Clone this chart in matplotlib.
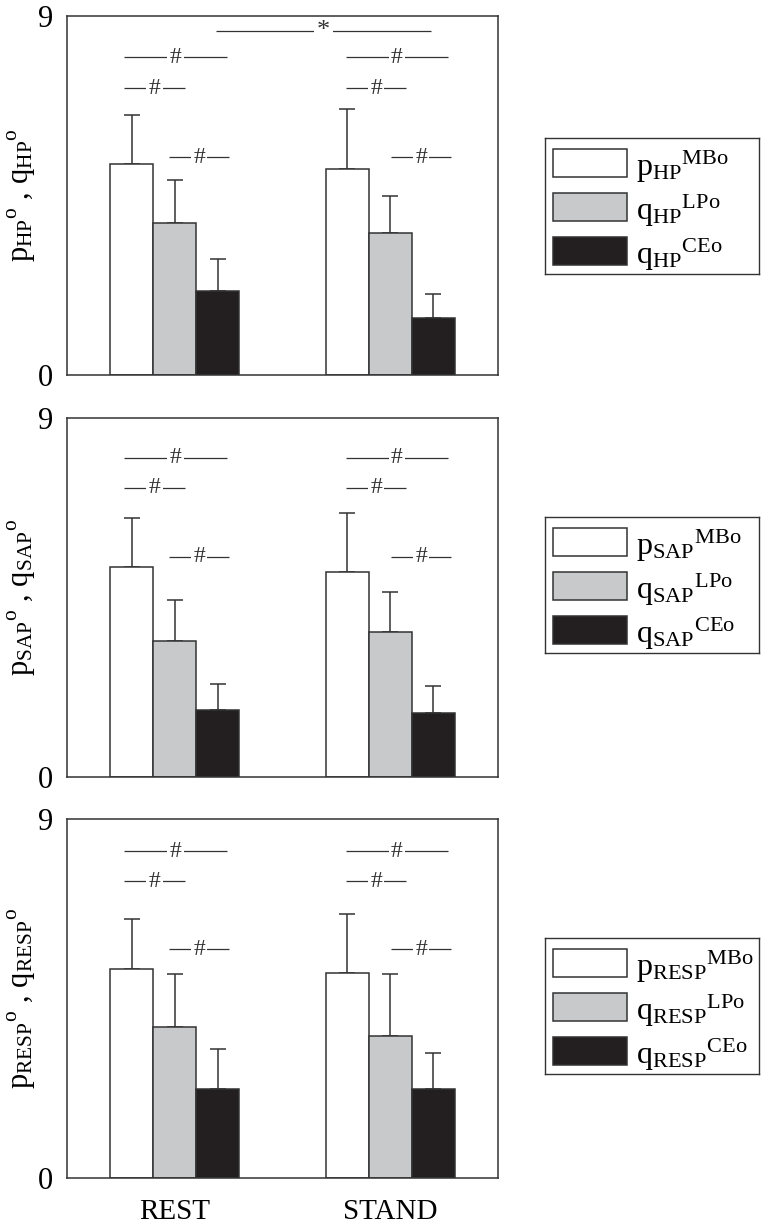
import matplotlib
matplotlib.use("Agg")
import matplotlib.pyplot as plt
from matplotlib.patches import Rectangle

plt.rcParams['font.family'] = ['Liberation Serif', 'DejaVu Serif']
plt.rcParams['mathtext.fontset'] = 'custom'
plt.rcParams['mathtext.rm'] = 'Liberation Serif'
plt.rcParams['mathtext.it'] = 'Liberation Serif:italic'
plt.rcParams['mathtext.bf'] = 'Liberation Serif:bold'

# ---------------- data ----------------
categories = ['REST', 'STAND']
signals = ['HP', 'SAP', 'RESP']

mbo_means = {'HP': [5.28, 5.16], 'SAP': [5.27, 5.15], 'RESP': [5.25, 5.15]}
mbo_errs = {'HP': [1.24, 1.51], 'SAP': [1.23, 1.48], 'RESP': [1.24, 1.47]}
lpo_means = {'HP': [3.82, 3.56], 'SAP': [3.40, 3.63], 'RESP': [3.79, 3.57]}
lpo_errs = {'HP': [1.07, 0.93], 'SAP': [1.04, 1.01], 'RESP': [1.33, 1.55]}
ceo_means = {'HP': [2.11, 1.43], 'SAP': [1.68, 1.60], 'RESP': [2.24, 2.24]}
ceo_errs = {'HP': [0.80, 0.60], 'SAP': [0.65, 0.68], 'RESP': [1.00, 0.90]}

# significance bracket heights (data units) per panel: top, middle, low
sig_levels = {'HP': [7.97, 7.19, 5.46], 'SAP': [8.00, 7.25, 5.52], 'RESP': [8.19, 7.44, 5.73]}
star_level_hp = 8.62

ymax = 9
yticks = [0, 9]

# ---------------- style ----------------
group_centers = [0.25, 0.75]
bar_w = 0.1
edge = '#333333'
fill_colors = ['white', '#c8c9cb', '#231f20']

fig = plt.figure(figsize=(7.69, 12.25), dpi=100)

ax_left = 67 / 769
ax_w = 431 / 769
ax_h = 359 / 1225
bottoms = [1 - 375 / 1225, 1 - 777 / 1225, 1 - 1178 / 1225]
leg_bottoms = [1 - 274 / 1225, 1 - 653 / 1225, 1 - 1074 / 1225]

# bracket x extents (axis fraction) for REST, STAND
br_x = {
    0: [(0.132, 0.371), (0.132, 0.274), (0.237, 0.376)],
    1: [(0.647, 0.884), (0.647, 0.787), (0.752, 0.891)],
}


def bracket(ax, x0, x1, y, sym, fs=17):
    ax.plot([x0, x1], [y, y], color=edge, lw=0.9, solid_capstyle='butt', zorder=3)
    ax.text((x0 + x1) / 2, y, sym, ha='center', va='center', fontsize=fs,
            color=edge, zorder=4,
            bbox=dict(boxstyle='square,pad=0.1', fc='white', ec='none'))


for i, sig in enumerate(signals):
    ax = fig.add_axes([ax_left, bottoms[i], ax_w, ax_h])
    series = [(mbo_means[sig], mbo_errs[sig]),
              (lpo_means[sig], lpo_errs[sig]),
              (ceo_means[sig], ceo_errs[sig])]
    for k, (m, e) in enumerate(series):
        xs = [c + (k - 1) * bar_w for c in group_centers]
        ax.bar(xs, m, width=bar_w, color=fill_colors[k], edgecolor=edge,
               linewidth=1.1, zorder=2)
        ax.errorbar(xs, m, yerr=[[0, 0], e], fmt='none', ecolor=edge,
                    elinewidth=1.1, capsize=5.5, capthick=1.1, zorder=1)
    for g in range(2):
        for (x0, x1), y in zip(br_x[g], sig_levels[sig]):
            bracket(ax, x0, x1, y, '#')
    if sig == 'HP':
        bracket(ax, 0.346, 0.845, star_level_hp, '*', fs=19)

    ax.set_xlim(0, 1)
    ax.set_ylim(0, ymax)
    ax.set_yticks(yticks)
    ax.set_yticklabels([str(t) for t in yticks], fontsize=22)
    ax.tick_params(axis='both', length=0, pad=10)
    if i == 2:
        ax.set_xticks(group_centers)
        ax.set_xticklabels(categories, fontsize=21)
        ax.tick_params(axis='x', pad=15)
    else:
        ax.set_xticks([])
    for sp in ax.spines.values():
        sp.set_color(edge)
        sp.set_linewidth(1.1)
    fig.text(21 / 769, bottoms[i] + ax_h / 2,
             r'$\mathrm{p_{%s}}^{\mathrm{o}}$ , $\mathrm{q_{%s}}^{\mathrm{o}}$' % (sig, sig),
             fontsize=22, rotation=90, ha='center', va='center')

    # legend box
    lax = fig.add_axes([545 / 769, leg_bottoms[i], 214 / 769, 136 / 1225])
    lax.set_xlim(0, 214)
    lax.set_ylim(136, 0)
    lax.set_xticks([])
    lax.set_yticks([])
    for sp in lax.spines.values():
        sp.set_color(edge)
        sp.set_linewidth(1.0)
    labels = [r'$\mathrm{p_{%s}}^{\mathrm{MBo}}$' % sig,
              r'$\mathrm{q_{%s}}^{\mathrm{LPo}}$' % sig,
              r'$\mathrm{q_{%s}}^{\mathrm{CEo}}$' % sig]
    for r in range(3):
        top = 11 + r * 44
        lax.add_patch(Rectangle((8, top), 74, 28, facecolor=fill_colors[r],
                                edgecolor=edge, linewidth=1.1))
        lax.text(91, top + 27, labels[r], fontsize=23, ha='left', va='baseline')

fig.savefig('out.png', dpi=100)
